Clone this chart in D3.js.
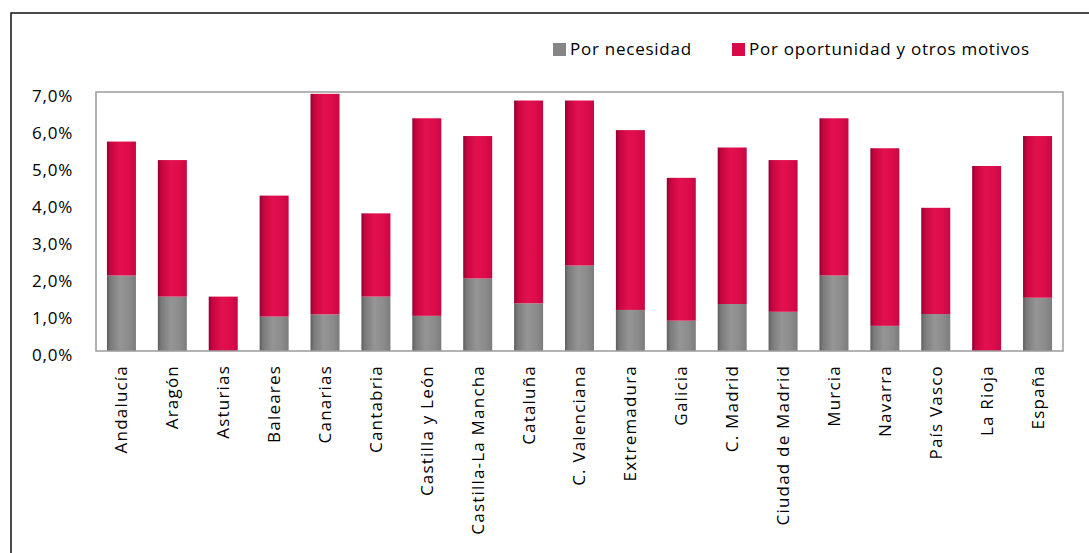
<!DOCTYPE html>
<html><head><meta charset="utf-8">
<script src="https://cdn.jsdelivr.net/npm/d3@7"></script>
<style>
body{margin:0;background:#fff;}
svg{display:block;font-family:"Open Sans",sans-serif;}
</style></head>
<body><svg id="c" width="1089" height="553"></svg>
<script>
const categories = ["Andalucía","Aragón","Asturias","Baleares","Canarias","Cantabria","Castilla y León","Castilla-La Mancha","Cataluña","C. Valenciana","Extremadura","Galicia","C. Madrid","Ciudad de Madrid","Murcia","Navarra","País Vasco","La Rioja","España"];
const necesidad = [2.04,1.47,0,0.93,0.99,1.47,0.95,1.96,1.29,2.31,1.11,0.82,1.27,1.06,2.04,0.68,1.00,0,1.44];
const oportunidad = [3.62,3.69,1.47,3.27,5.96,2.25,5.34,3.85,5.48,4.46,4.86,3.86,4.23,4.10,4.25,4.80,2.87,5.00,4.37];
const seriesNames = ["Por necesidad","Por oportunidad y otros motivos"];
const yTicks = [0,1,2,3,4,5,6,7];

const svg = d3.select("#c");
const W=1089,H=553;
const m={left:96,right:W-1063,top:92,bottom:H-351};
const FS=17, LS="0.75px";
const defs = svg.append("defs");
function grad(id, stops){
  const g=defs.append("linearGradient").attr("id",id).attr("x1","0").attr("x2","1").attr("y1","0").attr("y2","0");
  stops.forEach(s=>g.append("stop").attr("offset",s[0]).attr("stop-color",s[1]));
}
grad("gGray",[[0,"#5e5e5e"],[0.12,"#7a7a7a"],[0.45,"#959595"],[0.75,"#8c8c8c"],[1,"#7c7c7c"]]);
grad("gRed",[[0,"#8f0031"],[0.12,"#c4063f"],[0.45,"#e3104f"],[0.75,"#dc0c4b"],[1,"#c70843"]]);
const fills=["url(#gGray)","url(#gRed)"];
const legendColors=["#868686","#d90a48"];

// outer border
svg.append("rect").attr("x",11).attr("y",13).attr("width",W).attr("height",H).attr("fill","none").attr("stroke","#111").attr("stroke-width",1.5);

const x = d3.scaleBand().domain(categories).range([m.left,W-m.right]).paddingInner(0.43).paddingOuter(0.215);
const y = d3.scaleLinear().domain([0,7]).range([H-m.bottom,m.top]);

const data = categories.map((c,i)=>({cat:c,necesidad:necesidad[i],oportunidad:oportunidad[i]}));
const stack = d3.stack().keys(["necesidad","oportunidad"])(data);

svg.append("g").selectAll("g").data(stack).join("g")
  .attr("fill",(d,i)=>fills[i])
  .selectAll("rect").data(d=>d).join("rect")
  .attr("x",d=>x(d.data.cat)).attr("width",x.bandwidth())
  .attr("y",d=>y(d[1])).attr("height",d=>y(d[0])-y(d[1]));

// plot frame
svg.append("rect").attr("x",m.left).attr("y",m.top).attr("width",W-m.right-m.left).attr("height",H-m.bottom-m.top)
  .attr("fill","none").attr("stroke","#9a9a9a").attr("stroke-width",1.5);

// y axis
const yAxis = d3.axisLeft(y).tickValues(yTicks).tickSize(0).tickPadding(23)
  .tickFormat(d=>d3.format(".1f")(d).replace(".",",")+"%");
const ya = svg.append("g").attr("transform",`translate(${m.left},3)`).call(yAxis);
ya.select(".domain").remove();
ya.selectAll("text").attr("font-size",FS).attr("letter-spacing",LS).attr("font-family","Open Sans").attr("fill","#000").attr("dy","0.36em");

// x axis
const xAxis = d3.axisBottom(x).tickSize(0).tickPadding(0);
const xa = svg.append("g").attr("transform",`translate(0,${H-m.bottom})`).call(xAxis);
xa.select(".domain").remove();
xa.selectAll("text").attr("font-size",FS).attr("letter-spacing","1.2px").attr("font-family","Open Sans").attr("fill","#000")
  .attr("text-anchor","end").attr("transform","translate(0,14) rotate(-90)").attr("dy","0.35em").attr("y",0).attr("x",0);

// legend
const leg = svg.append("g");
const legX=[553,732];
seriesNames.forEach((n,i)=>{
  leg.append("rect").attr("x",legX[i]).attr("y",43).attr("width",13).attr("height",13).attr("fill",legendColors[i]);
  leg.append("text").attr("x",legX[i]+17).attr("y",49.5).attr("dy","0.35em").attr("font-size",FS).attr("letter-spacing",LS).attr("fill","#000").text(n);
});
</script></body></html>
